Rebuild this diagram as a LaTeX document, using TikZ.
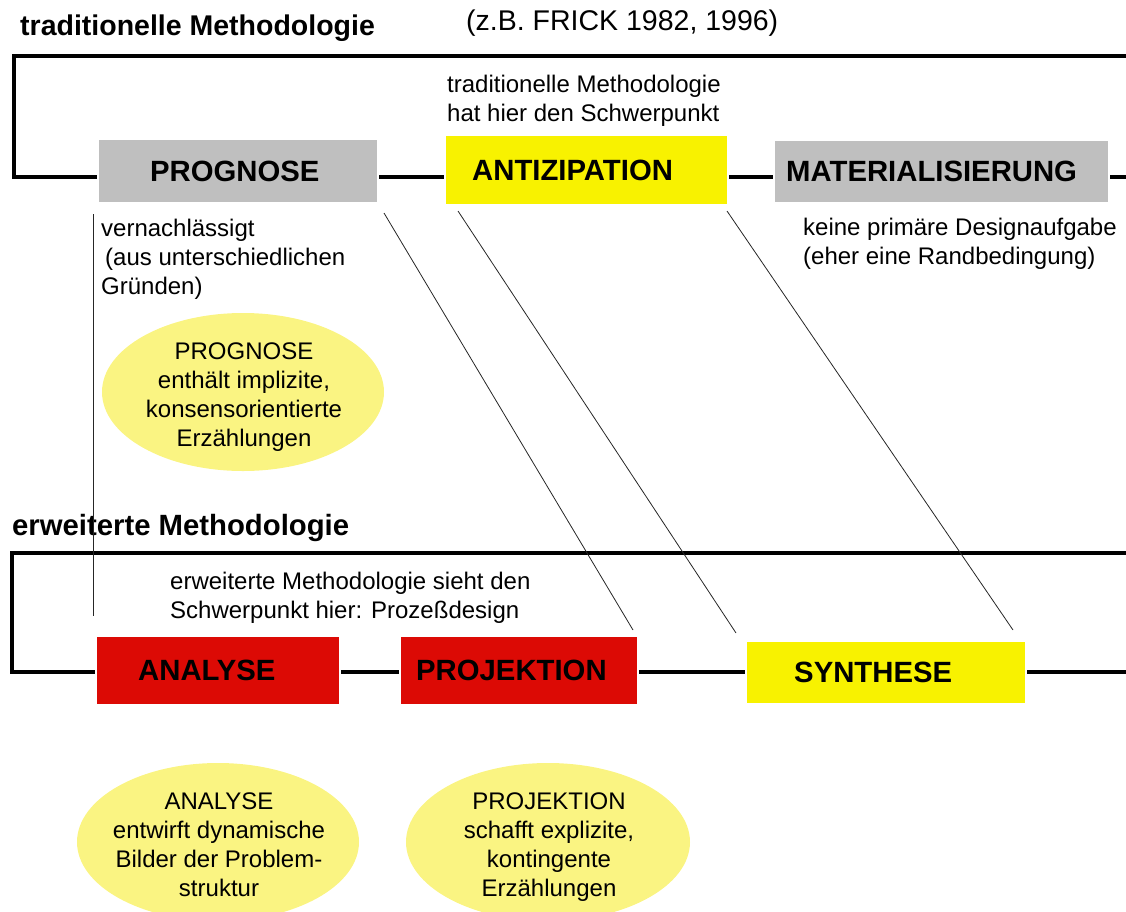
\documentclass[tikz,border=0pt]{standalone}
\usepackage{fontspec}
\setmainfont{Liberation Sans}
\usetikzlibrary{shapes.geometric,backgrounds}

\definecolor{boxgray}{HTML}{BFBFBF}
\definecolor{edgegray}{HTML}{E2E2E2}
\definecolor{boxyellow}{HTML}{F8F200}
\definecolor{edgeyellow}{HTML}{FAF6A8}
\definecolor{boxred}{HTML}{DC0A05}
\definecolor{edgered}{HTML}{F2A8A6}
\definecolor{blobyellow}{HTML}{FAF482}

\begin{document}
\begin{tikzpicture}[x=1pt, y=-1pt,
  bar/.style={line width=4pt, line join=miter},
  link/.style={line width=0.8pt, draw=black!85},
  stage/.style 2 args={rectangle, inner sep=0pt, outer sep=0pt,
    fill=#1, draw=#2, double=white, double distance=1.1pt, line width=0.6pt},
  stagetext/.style={inner sep=0pt, anchor=west,
    font=\bfseries\fontsize{29.3}{34}\selectfont},
  heading/.style={inner sep=0pt, anchor=base west,
    font=\bfseries\fontsize{28.5}{34}\selectfont},
  note/.style={inner sep=0pt, align=left,
    font=\fontsize{24}{28.7}\selectfont},
  blob/.style={ellipse, inner sep=0pt, fill=blobyellow},
  blobtext/.style={inner sep=0pt, align=center, anchor=base,
    font=\fontsize{24}{28.7}\selectfont}]
\useasboundingbox (0,0) rectangle (1126,911);

% ---------- headings and notes (multi-line nodes sit on their last baseline) ----------
\node[heading] (hTrad) at (20,35) {traditionelle Methodologie};
\node[inner sep=0pt, anchor=base west, font=\fontsize{28.5}{34}\selectfont]
  (hRef) at (466,30) {(z.B. FRICK 1982, 1996)};
\node[note, anchor=base west] (nTrad) at (447,121.5)
  {traditionelle Methodologie\\hat hier den Schwerpunkt};
\node[note, anchor=base west] (nVern) at (101,294)
  {vernachlässigt\\\hspace*{4pt}(aus unterschiedlichen\\Gründen)};
\node[note, anchor=base west] (nMat) at (803,264.5)
  {keine primäre Designaufgabe\\(eher eine Randbedingung)};
\node[heading, font=\bfseries\fontsize{29.3}{34}\selectfont] (hErw) at (12,535)
  {erweiterte Methodologie};
\node[note, anchor=base west] (nErw) at (170,618.5)
  {erweiterte Methodologie sieht den\\Schwerpunkt hier: Prozeßdesign};

% ---------- upper row of stages ----------
\node[stage={boxgray}{edgegray}, minimum width=280pt, minimum height=64pt]
  (prog) at (238,171) {};
\node[stage={boxyellow}{edgeyellow}, minimum width=283pt, minimum height=70pt]
  (anti) at (586.5,170) {};
\node[stage={boxgray}{edgegray}, minimum width=335pt, minimum height=63pt]
  (mat) at (941.5,171.5) {};
\node[stagetext] (progT) at ([xshift=52pt]prog.west) {PROGNOSE};
\node[stagetext] (antiT) at ([xshift=27pt]anti.west) {ANTIZIPATION};
\node[stagetext] (matT) at ([xshift=12pt]mat.west) {MATERIALISIERUNG};

% ---------- lower row of stages ----------
\node[stage={boxred}{edgered}, minimum width=244pt, minimum height=69pt]
  (ana) at (218,670.5) {};
\node[stage={boxred}{edgered}, minimum width=238pt, minimum height=69pt]
  (proj) at (519,670.5) {};
\node[stage={boxyellow}{edgeyellow}, minimum width=280pt, minimum height=63pt]
  (syn) at (886,672.5) {};
\node[stagetext] (anaT) at ([xshift=42pt]ana.west) {ANALYSE};
\node[stagetext] (projT) at ([xshift=16pt]proj.west) {PROJEKTION};
\node[stagetext] (synT) at ([xshift=48pt]syn.west) {SYNTHESE};

% ---------- ellipses ----------
\node[blob, minimum width=282pt, minimum height=158pt] (progE) at (243,392) {};
\node[blobtext] (progET) at (244,446)
  {PROGNOSE\\enthält implizite,\\konsensorientierte\\Erzählungen};
\node[blob, minimum width=282pt, minimum height=158pt] (anaE) at (218,842) {};
\node[blobtext] (anaET) at (219,896)
  {ANALYSE\\entwirft dynamische\\Bilder der Problem-\\struktur};
\node[blob, minimum width=284pt, minimum height=158pt] (projE) at (548,842) {};
\node[blobtext] (projET) at (549,896)
  {PROJEKTION\\schafft explizite,\\kontingente\\Erzählungen};

% ---------- brackets and chain lines (behind the stage boxes) ----------
\coordinate (tTopL) at (14,56);
\coordinate (tTopR) at (1126,56);
\coordinate (tBotL) at (14,177);
\coordinate (tEnd)  at (1126,177);
\coordinate (bTopL) at (12,553);
\coordinate (bTopR) at (1126,553);
\coordinate (bBotL) at (12,672);
\coordinate (bEnd)  at (1126,672);
\begin{scope}[on background layer]
  \draw[bar] (prog.west |- tBotL) -- (tBotL) -- (tTopL) -- (tTopR);
  \draw[bar] (prog.east |- tBotL) -- (anti.west |- tBotL);
  \draw[bar] (anti.east |- tBotL) -- (mat.west |- tBotL);
  \draw[bar] (mat.east |- tBotL) -- (tEnd);
  \draw[bar] (ana.west |- bBotL) -- (bBotL) -- (bTopL) -- (bTopR);
  \draw[bar] (ana.east |- bBotL) -- (proj.west |- bBotL);
  \draw[bar] (proj.east |- bBotL) -- (syn.west |- bBotL);
  \draw[bar] (syn.east |- bBotL) -- (bEnd);
\end{scope}

% ---------- thin links between the two methodologies ----------
\draw[link] ([shift={(-5pt,-11pt)}]prog.south west) -- ([shift={(-3pt,20pt)}]ana.north west);
\draw[link] ([shift={(6pt,-10pt)}]prog.south east) -- ([shift={(-5pt,6pt)}]proj.north east);
\draw[link] ([shift={(13pt,-6pt)}]anti.south west) -- ([shift={(-10pt,8pt)}]syn.north west);
\draw[link] ([shift={(-1pt,-6pt)}]anti.south east) -- ([shift={(-13pt,11pt)}]syn.north east);
\end{tikzpicture}
\end{document}
